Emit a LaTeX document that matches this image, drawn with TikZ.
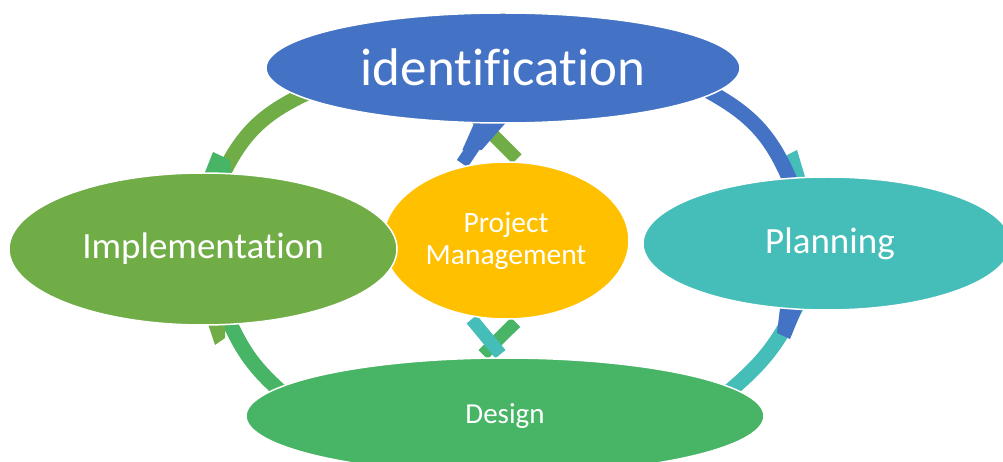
\documentclass[tikz,border=0pt]{standalone}
\usepackage{fontspec}
\setmainfont{Carlito}[Ligatures=NoCommon]
\usetikzlibrary{shapes.geometric}
\definecolor{idblue}{HTML}{4472C4}
\definecolor{planteal}{HTML}{45BDB9}
\definecolor{implgreen}{HTML}{70AD47}
\definecolor{desgreen}{HTML}{47B565}
\definecolor{pmyellow}{HTML}{FFC000}
\pgfdeclarelayer{background}
\pgfsetlayers{background,main}

\begin{document}
\begin{tikzpicture}[x=1pt,y=-1pt,
  phase/.style={ellipse,draw=white,line width=1.5pt,inner sep=0pt,text=white,align=center},
  band/.style={line width=15pt,shorten <=-10pt,shorten >=-10pt},
  xband/.style={line width=13pt,shorten <=4pt,shorten >=4pt}]
  \useasboundingbox (0,0) rectangle (1003,462);
  % Phases of the cycle
  \node[phase,fill=idblue,minimum width=474pt,minimum height=110pt,
    font=\fontsize{53}{63}\selectfont] (ident) at (503,68) {\raisebox{2pt}{identification}};
  \node[phase,fill=pmyellow,minimum width=246pt,minimum height=157pt,
    font=\fontsize{29.5}{32}\selectfont] (pm) at (506,240.5) {Project\\Management};
  \node[phase,fill=implgreen,minimum width=388pt,minimum height=152pt,
    font=\fontsize{37}{44}\selectfont] (impl) at (203,249) {Implementation};
  \node[phase,fill=planteal,minimum width=368pt,minimum height=133pt,
    font=\fontsize{37}{44}\selectfont] (plan) at (827,243.5) {\hspace*{6pt}Planning};
  \node[phase,fill=desgreen,minimum width=518pt,minimum height=116pt,
    font=\fontsize{29}{34}\selectfont] (design) at (505,416) {Design};

  \begin{pgfonlayer}{background}
    % outer cycle
    \fill[planteal] (787,155) -- (797,150) -- (809,190) -- (790,190) -- cycle;
    \draw[band,implgreen] (ident.188) to[bend right=20] (impl.75);
    \draw[band,idblue]    (ident.353) to[bend left=20]  (plan.120);
    \draw[band,planteal]  (plan.244)  to[bend left=12]  (design.7);
    \draw[band,desgreen]  (impl.290)  to[bend right=12] (design.173);
    \fill[desgreen]  (213,152) -- (230,160) -- (232,185) -- (200,185) -- cycle;
    \fill[idblue]    (781,300) -- (806,300) -- (790,339) -- (777,333) -- cycle;
    \fill[implgreen] (205,315) -- (226,315) -- (225,338) -- (215,345) -- cycle;
    % links to Project Management
    \draw[xband,implgreen,shorten >=-8pt] (pm.80) -- (ident.249.5);
    \draw[xband,idblue]    (pm.122) -- (ident.256);
    \fill[idblue] (476.5,118) -- (510,118) -- (481.7,150) -- (462.3,150) -- cycle;
    \draw[xband,desgreen]  (pm.279) -- (design.113);
    \draw[xband,planteal]  (pm.244) -- (design.92.5);
  \end{pgfonlayer}
\end{tikzpicture}
\end{document}
